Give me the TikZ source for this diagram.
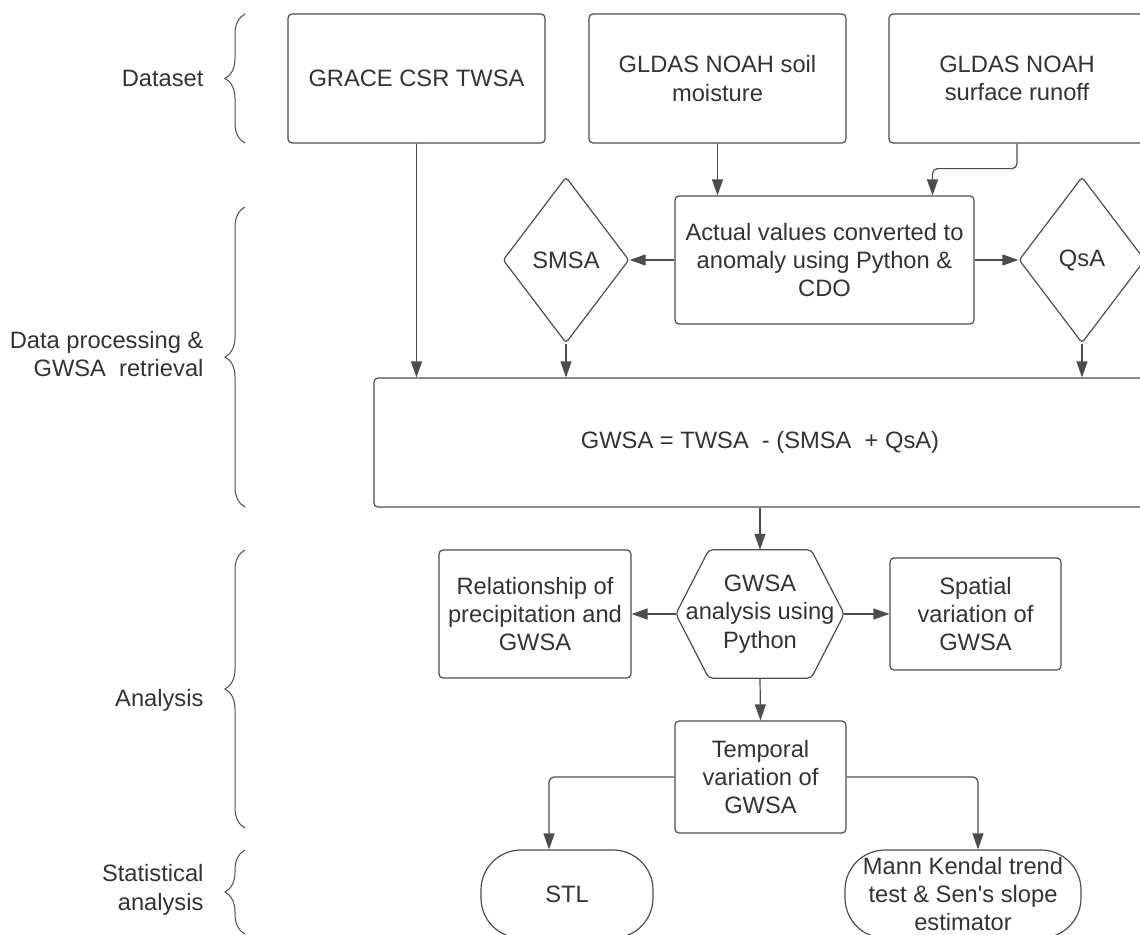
\documentclass[tikz,border=0pt]{standalone}
\usepackage{fontspec}
\setmainfont{Liberation Sans}
\usetikzlibrary{arrows.meta,calc,shapes.geometric,decorations.pathreplacing}
\definecolor{linecol}{HTML}{4D4D4D}
\definecolor{txtcol}{HTML}{333333}

\begin{document}
\begin{tikzpicture}[x=1pt, y=-1pt, >={Triangle[length=16pt,width=11pt]},
  every node/.style={text=txtcol, font=\fontsize{23.7}{28.3}\selectfont},
  box/.style={draw=linecol, line width=1.2pt, rounded corners=4pt, align=center, inner sep=0pt},
  sz/.style 2 args={minimum width=#1pt, minimum height=#2pt},
  dec/.style={box, diamond, rounded corners=3pt},
  term/.style={box, rounded corners=40pt},
  conn/.style={->, draw=linecol, line width=1.2pt},
  brc/.style={draw=linecol, line width=1pt, decorate, decoration={brace, amplitude=20pt}},
  lbl/.style={anchor=east, align=right}]
\useasboundingbox (0,0) rectangle (1140,934);
\clip (0,0) rectangle (1140,934);
% --- Stages ---
\node[lbl] (lblData) at (207,78) {Dataset};
\node[lbl] (lblProc) at (207,354) {Data processing \&\\GWSA~ retrieval};
\node[lbl] (lblAna) at (207,700) {Analysis};
\node[lbl] (lblStat) at (207,890) {Statistical\\analysis};
\draw[brc] (245,143) -- (245,14);
\draw[brc] (245,507) -- (245,207);
\draw[brc] (245,828) -- (245,550);
\draw[brc] (245,934) -- (245,850);
% --- Dataset ---
\node[box, sz={257}{129}] (grace) at (416.5,78.5) {GRACE CSR TWSA};
\node[box, sz={257}{129}] (soil) at (717.5,78.5) {GLDAS NOAH soil\\moisture};
\node[box, sz={256}{129}] (runoff) at (1017,78.5) {GLDAS NOAH\\surface runoff};
% --- Processing ---
\node[box, sz={299}{128}] (actual) at (824.5,260) {Actual values converted to\\anomaly using Python \&\\CDO};
\node[dec, sz={126}{166}] (smsa) at (566,260) {SMSA};
\node[dec, sz={126}{166}] (qsa) at (1082,260) {QsA};
\node[box, sz={772}{129}] (gwsa) at (760,442.5) {GWSA = TWSA~ - (SMSA~ + QsA)};
\draw[conn] (grace.south) -- (grace.south |- gwsa.north);
\draw[conn] (soil.south) -- (soil.south |- actual.north);
\draw[conn, rounded corners=5pt] (runoff.south) -- ++(0,25) -| ([xshift=108pt]actual.north);
\draw[conn] (actual.west) -- (smsa.east);
\draw[conn] (actual.east) -- (qsa.west);
\draw[conn] (smsa.south) -- (smsa.south |- gwsa.north);
\draw[conn] (qsa.south) -- (qsa.south |- gwsa.north);
% --- Analysis ---
\node[align=center, inner sep=0pt, sz={168}{128}] (hex) at (760,614) {GWSA\\analysis using\\Python};
\draw[draw=linecol, line width=1.2pt, rounded corners=4pt] (hex.west) -- ([xshift=33pt]hex.north west)
  -- ([xshift=-33pt]hex.north east) -- (hex.east) -- ([xshift=-33pt]hex.south east)
  -- ([xshift=33pt]hex.south west) -- cycle;
\node[box, sz={192}{128}] (rel) at (535,614) {Relationship of\\precipitation and\\GWSA};
\node[box, sz={171}{112}] (spat) at (975.5,614) {Spatial\\variation of\\GWSA};
\node[box, sz={171}{112}] (temp) at (760.5,777) {Temporal\\variation of\\GWSA};
\draw[conn] (gwsa.south) -- (hex.north);
\draw[conn] (hex.west) -- (rel.east);
\draw[conn] (hex.east) -- (spat.west);
\draw[conn] (hex.south) -- (temp.north);
% --- Statistics ---
\node[term, sz={172}{88}] (stl) at (567,894) {STL};
\node[term, sz={236}{88}] (mann) at (963,894) {Mann Kendal trend\\test \& Sen\textquotesingle s slope\\estimator};
\draw[conn, rounded corners=5pt] (temp.west) -| ([xshift=-18pt]stl.north);
\draw[conn, rounded corners=5pt] (temp.east) -| ([xshift=15pt]mann.north);
\end{tikzpicture}
\end{document}
